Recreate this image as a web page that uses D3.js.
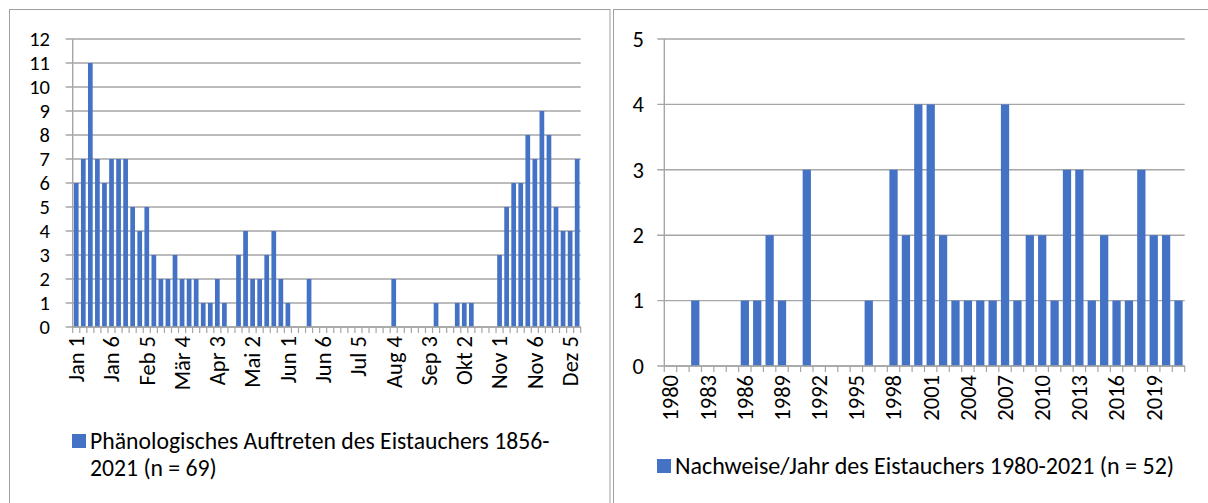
<!DOCTYPE html>
<html>
<head>
<meta charset="utf-8">
<script src="https://cdn.jsdelivr.net/npm/d3@7"></script>
<style>
  body { margin: 0; background: #fff; }
  svg { display: block; font-family: Carlito, Calibri, "Open Sans", sans-serif; }
</style>
</head>
<body>
<svg id="chart"></svg>
<script>
// left chart: pentads (6 per month)
const months = ['Jan', 'Feb', 'Mär', 'Apr', 'Mai', 'Jun', 'Jul', 'Aug', 'Sep', 'Okt', 'Nov', 'Dez'];
const pentads = months.flatMap(m => [1, 2, 3, 4, 5, 6].map(p => m + ' ' + p));
const pentadCounts = [
  6, 7, 11, 7, 6, 7, 7, 7, 5, 4, 5, 3,
  2, 2, 3, 2, 2, 2, 1, 1, 2, 1, 0, 3,
  4, 2, 2, 3, 4, 2, 1, 0, 0, 2, 0, 0,
  0, 0, 0, 0, 0, 0, 0, 0, 0, 2, 0, 0,
  0, 0, 0, 1, 0, 0, 1, 1, 1, 0, 0, 0,
  3, 5, 6, 6, 8, 7, 9, 8, 5, 4, 4, 7
];
const pentadTicks = ['Jan 1', 'Jan 6', 'Feb 5', 'Mär 4', 'Apr 3', 'Mai 2', 'Jun 1', 'Jun 6', 'Jul 5', 'Aug 4', 'Sep 3', 'Okt 2', 'Nov 1', 'Nov 6', 'Dez 5'];
const leftLegend = ['Phänologisches Auftreten des Eistauchers 1856-', '2021 (n = 69)'];

// right chart: records per year
const years = d3.range(1980, 2022).map(String);
const yearCounts = [
  0, 0, 1, 0, 0, 0, 1, 1, 2, 1, 0, 3,
  0, 0, 0, 0, 1, 0, 3, 2, 4, 4, 2, 1,
  1, 1, 1, 4, 1, 2, 2, 1, 3, 3, 1, 2,
  1, 1, 3, 2, 2, 1
];
const yearTicks = ['1980', '1983', '1986', '1989', '1992', '1995', '1998', '2001', '2004', '2007', '2010', '2013', '2016', '2019'];
const rightLegend = ['Nachweise/Jahr des Eistauchers 1980-2021 (n = 52)'];

const W = 1208, H = 503;
const blue = '#4472C4', grid = '#a6a6a6', frame = '#a0a0a0';
const tickFont = 22.5;

const svg = d3.select('#chart').attr('width', W).attr('height', H);

// frames
svg.append('rect').attr('x', 9.5).attr('y', 9.5).attr('width', 600.5).attr('height', 520)
  .attr('fill', 'none').attr('stroke', frame);
svg.append('rect').attr('x', 613.5).attr('y', 9.5).attr('width', 620).attr('height', 520)
  .attr('fill', 'none').attr('stroke', frame);

function barChart(cfg) {
  const g = svg.append('g');
  const x = d3.scaleBand().domain(cfg.cats).range([cfg.x0, cfg.x1]).paddingInner(0.333).paddingOuter(0.1665);
  const y = d3.scaleLinear().domain([0, cfg.yMax]).range([cfg.y0, cfg.y1]);
  const step = x.step();

  // gridlines + y ticks
  g.append('g').selectAll('line').data(d3.range(0, cfg.yMax + 1)).join('line')
    .attr('x1', cfg.x0 - 7).attr('x2', cfg.x1)
    .attr('y1', d => y(d)).attr('y2', d => y(d))
    .attr('stroke', grid).attr('stroke-width', 1.4);

  g.append('g').selectAll('text').data(d3.range(0, cfg.yMax + 1)).join('text')
    .attr('x', cfg.labelX).attr('y', d => y(d)).attr('dy', '0.35em')
    .attr('text-anchor', 'end').attr('font-size', cfg.yFont).attr('fill', '#000')
    .text(d => d);

  // y axis line
  g.append('line').attr('x1', cfg.x0).attr('x2', cfg.x0).attr('y1', cfg.y1).attr('y2', cfg.y0)
    .attr('stroke', grid).attr('stroke-width', 1.4);

  // bars
  g.append('g').selectAll('rect').data(cfg.vals).join('rect')
    .attr('x', (d, i) => x(cfg.cats[i]))
    .attr('y', d => y(d))
    .attr('width', x.bandwidth())
    .attr('height', d => cfg.y0 - y(d))
    .attr('fill', blue);

  // x axis with category boundary ticks
  g.append('line').attr('x1', cfg.x0).attr('x2', cfg.x1).attr('y1', cfg.y0).attr('y2', cfg.y0)
    .attr('stroke', grid).attr('stroke-width', 1.4);
  g.append('g').selectAll('line').data(d3.range(cfg.cats.length + 1)).join('line')
    .attr('x1', i => cfg.x0 + i * step).attr('x2', i => cfg.x0 + i * step)
    .attr('y1', cfg.y0).attr('y2', cfg.y0 + 6)
    .attr('stroke', grid).attr('stroke-width', 1.2);

  // rotated category labels
  g.append('g').selectAll('text').data(cfg.ticks).join('text')
    .attr('transform', d => `translate(${x(d) + x.bandwidth() / 2},${cfg.y0 + 9}) rotate(-90)`)
    .attr('text-anchor', 'end').attr('dy', '0.35em')
    .attr('font-size', tickFont).attr('fill', '#000')
    .text(d => d);

  // legend
  svg.append('rect').attr('x', cfg.legX).attr('y', cfg.legY - 15).attr('width', 14).attr('height', 14).attr('fill', blue);
  cfg.legend.forEach((line, i) => {
    svg.append('text').attr('x', cfg.legX + 18).attr('y', cfg.legY + i * 27)
      .attr('font-size', cfg.legFont).attr('fill', '#000').text(line);
  });
}

barChart({
  cats: pentads, vals: pentadCounts, ticks: pentadTicks, yMax: 12, yFont: 20.5,
  x0: 72.7, x1: 580.7, y0: 327, y1: 39, labelX: 50,
  legX: 72, legY: 449, legend: leftLegend, legFont: 23.7
});

barChart({
  cats: years, vals: yearCounts, ticks: yearTicks, yMax: 5, yFont: tickFont,
  x0: 664.3, x1: 1184.7, y0: 366, y1: 39, labelX: 644,
  legX: 657, legY: 474, legend: rightLegend, legFont: 24
});
</script>
</body>
</html>
